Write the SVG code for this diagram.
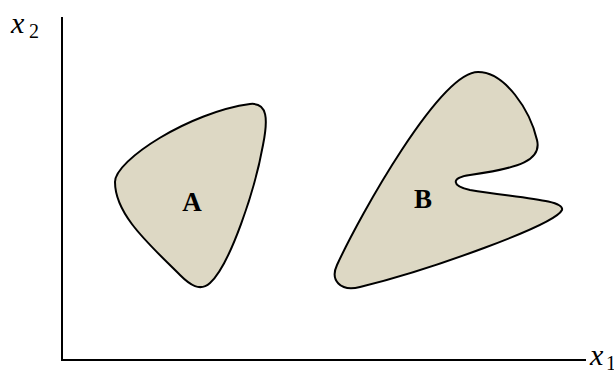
<svg xmlns="http://www.w3.org/2000/svg" width="614" height="370" viewBox="0 0 614 370">
<style>
.axis{stroke:#000;stroke-width:2;fill:none}
.region{fill:#DDD8C4;stroke:#000;stroke-width:2}
.lbl{font-family:"Liberation Serif",serif;font-weight:bold;font-size:27px;text-anchor:middle}
.var{font-family:"Liberation Serif",serif;font-style:italic;font-size:30px}
.sub{font-family:"Liberation Serif",serif;font-size:20px}
</style>
<g id="axes">
<line class="axis" x1="62" y1="17" x2="62" y2="360"/>
<line class="axis" x1="61" y1="360" x2="586" y2="360"/>
<text class="var" x="11" y="33">x</text><text class="sub" x="29" y="38">2</text>
<text class="var" x="590" y="365">x</text><text class="sub" x="606" y="370">1</text>
</g>
<g id="regionA">
<path class="region" d="M 115,182 C 115,160 190,112 250,104 C 268,102 268,120 263,145 C 255,190 230,265 210,283 C 200,292 190,285 180,275 C 150,245 115,215 115,182 Z"/>
<text class="lbl" x="192" y="211">A</text>
</g>
<g id="regionB">
<path class="region" d="M 478,72 C 505,72 530,110 537,140 C 542,160 520,168 470,175 C 450,178 452,186 470,190 C 520,198 565,200 562,210 C 555,225 430,270 360,287 C 340,292 330,280 337,265 C 360,215 440,72 478,72 Z"/>
<text class="lbl" x="423" y="208">B</text>
</g>
</svg>
